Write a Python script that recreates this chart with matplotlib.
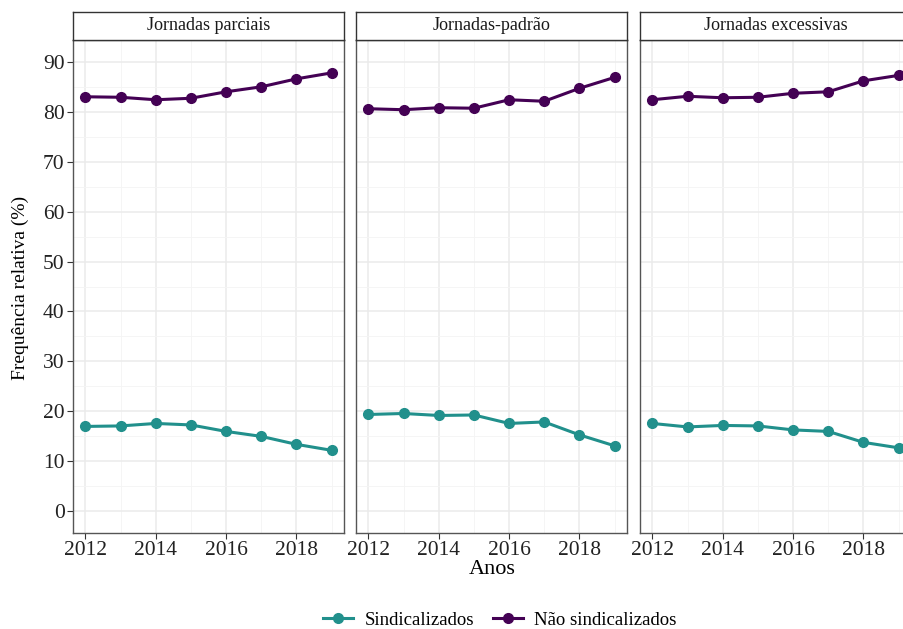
import matplotlib
matplotlib.use('Agg')
import matplotlib.pyplot as plt
from matplotlib.ticker import MultipleLocator

plt.rcParams['font.family'] = ['Liberation Serif', 'DejaVu Serif']

# data (percent)
YEARS = [2012, 2013, 2014, 2015, 2016, 2017, 2018, 2019]
PANELS = ['Jornadas parciais', 'Jornadas-padrão', 'Jornadas excessivas']

SIND_PARCIAIS = [16.9, 17.0, 17.5, 17.2, 15.9, 14.9, 13.3, 12.1]
NAO_PARCIAIS = [83.1, 83.0, 82.5, 82.8, 84.1, 85.1, 86.7, 87.9]

SIND_PADRAO = [19.3, 19.5, 19.1, 19.2, 17.5, 17.8, 15.2, 13.0]
NAO_PADRAO = [80.7, 80.5, 80.9, 80.8, 82.5, 82.2, 84.8, 87.0]

SIND_EXCESSIVAS = [17.5, 16.8, 17.1, 17.0, 16.2, 15.9, 13.7, 12.6]
NAO_EXCESSIVAS = [82.5, 83.2, 82.9, 83.0, 83.8, 84.1, 86.3, 87.4]

SERIES = [
    (SIND_PARCIAIS, NAO_PARCIAIS),
    (SIND_PADRAO, NAO_PADRAO),
    (SIND_EXCESSIVAS, NAO_EXCESSIVAS),
]

COL_SIND = '#21908C'
COL_NAO = '#440154'

W, H = 904, 629
fig = plt.figure(figsize=(W / 100, H / 100), dpi=100)

# panel geometry in pixels (third panel runs past the right edge, as in the reference)
panel_left = [73, 356, 640]
panel_w = 271
top, bottom = 40, 533
strip_top = 12

for i, (name, (sind, nao)) in enumerate(zip(PANELS, SERIES)):
    x0 = panel_left[i]
    ax = fig.add_axes([x0 / W, 1 - bottom / H, panel_w / W, (bottom - top) / H])
    ax.plot(YEARS, sind, color=COL_SIND, lw=2.2, marker='o', ms=7, label='Sindicalizados', zorder=3)
    ax.plot(YEARS, nao, color=COL_NAO, lw=2.2, marker='o', ms=7, label='Não sindicalizados', zorder=3)
    ax.set_xlim(2011.65, 2019.35)
    ax.set_ylim(-4.5, 94.5)
    ax.xaxis.set_major_locator(MultipleLocator(2))
    ax.xaxis.set_minor_locator(MultipleLocator(1))
    ax.yaxis.set_major_locator(MultipleLocator(10))
    ax.yaxis.set_minor_locator(MultipleLocator(5))
    ax.grid(which='major', color='#EBEBEB', lw=1.1, zorder=0)
    ax.grid(which='minor', color='#F4F4F4', lw=0.6, zorder=0)
    ax.set_axisbelow(True)
    for s in ax.spines.values():
        s.set_color('#555555')
        s.set_linewidth(1.0)
    ax.tick_params(which='major', direction='out', length=4, color='#333333',
                   labelsize=15.5, labelcolor='#222222', pad=2)
    ax.tick_params(which='minor', length=0)
    if i > 0:
        ax.tick_params(axis='y', labelleft=False, length=0)

    # strip on top
    sax = fig.add_axes([x0 / W, 1 - top / H, panel_w / W, (top - strip_top) / H])
    sax.set_xticks([])
    sax.set_yticks([])
    for s in sax.spines.values():
        s.set_color('#333333')
        s.set_linewidth(1.0)
    sax.text(0.5, 0.5, name, ha='center', va='center', fontsize=13, color='#1A1A1A',
             transform=sax.transAxes)

fig.text(20 / W, 1 - 288 / H, 'Frequência relativa (%)', rotation=90,
         ha='center', va='center', fontsize=14)
fig.text(492 / W, 1 - 570 / H, 'Anos', ha='center', va='center', fontsize=16)

handles, labels = ax.get_legend_handles_labels()
fig.legend(handles, labels, loc='center', bbox_to_anchor=(500 / W, 1 - 620 / H), ncol=2,
           frameon=False, fontsize=13.5, handlelength=1.6, columnspacing=1.0, handletextpad=0.6)

fig.savefig('out.png', dpi=100)
